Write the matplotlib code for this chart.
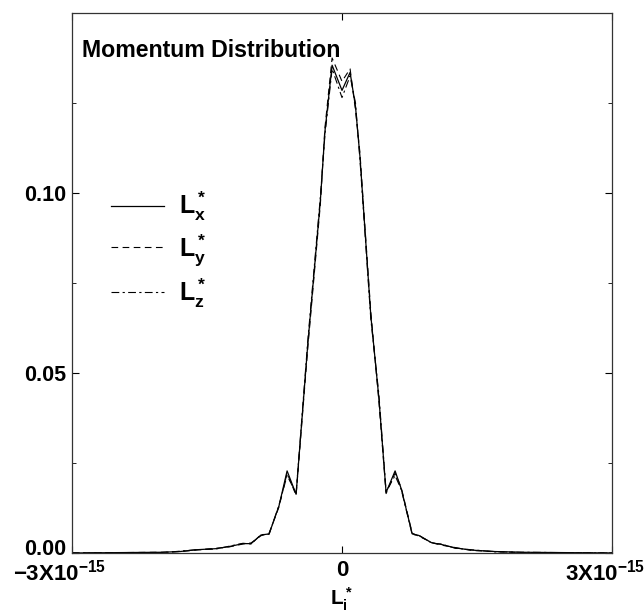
import matplotlib
matplotlib.use("Agg")
import matplotlib.pyplot as plt
import matplotlib.transforms as mtransforms

plt.rcParams['font.family'] = ['Liberation Sans', 'DejaVu Sans']
plt.rcParams['font.weight'] = 'bold'
plt.rcParams['mathtext.fontset'] = 'custom'
plt.rcParams['mathtext.rm'] = 'Liberation Sans:bold'
plt.rcParams['mathtext.bf'] = 'Liberation Sans:bold'
plt.rcParams['mathtext.it'] = 'Liberation Sans:bold'

# momentum values in units of 1e-15
x_vals = [-3.0, -2.0, -1.8, -1.62, -1.4, -1.25, -1.1, -1.01, -0.9, -0.81, -0.70,
          -0.61, -0.51, -0.38, -0.24, -0.19, -0.11, 0.0, 0.09, 0.15, 0.2, 0.24,
          0.32, 0.41, 0.49, 0.59, 0.66, 0.78, 0.85, 1.0, 1.1, 1.26, 1.44, 1.7,
          2.0, 3.0]

lx = [0.0, 0.0002, 0.0004, 0.0009, 0.0012, 0.0018, 0.0026, 0.0026, 0.0050, 0.0053,
      0.0131, 0.0228, 0.0163, 0.058, 0.098, 0.117, 0.1355, 0.1285, 0.1335, 0.124,
      0.110, 0.0953, 0.066, 0.043, 0.0168, 0.0228, 0.0177, 0.0053, 0.0049,
      0.0028, 0.0024, 0.0014, 0.0008, 0.0004, 0.0002, 0.0]

ly = [0.0, 0.0002, 0.0004, 0.0008, 0.0013, 0.0017, 0.0025, 0.0028, 0.0048, 0.0055,
      0.0128, 0.0222, 0.0160, 0.057, 0.097, 0.118, 0.1375, 0.131, 0.1345, 0.123,
      0.111, 0.0960, 0.067, 0.042, 0.0165, 0.0222, 0.0180, 0.0055, 0.0047,
      0.0029, 0.0022, 0.0015, 0.0007, 0.0004, 0.0001, 0.0]

lz = [0.0, 0.0001, 0.0005, 0.0009, 0.0011, 0.0019, 0.0027, 0.0025, 0.0051, 0.0052,
      0.0133, 0.0215, 0.0166, 0.059, 0.099, 0.116, 0.1345, 0.1265, 0.1325, 0.125,
      0.109, 0.0945, 0.065, 0.044, 0.0171, 0.0215, 0.0175, 0.0051, 0.0050,
      0.0027, 0.0025, 0.0013, 0.0009, 0.0003, 0.0002, 0.0]

fig = plt.figure(figsize=(6.44, 6.16), dpi=100)
ax = fig.add_axes([0.1118, 0.1023, 0.8385, 0.8766])

ax.plot(x_vals, lx, color='black', lw=0.9, ls='-', label=r'$\mathbf{L_x^*}$')
ax.plot(x_vals, ly, color='black', lw=0.8, ls=(0, (6, 4)), label=r'$\mathbf{L_y^*}$')
ax.plot(x_vals, lz, color='black', lw=0.8, ls=(0, (7, 3, 2, 3)), label=r'$\mathbf{L_z^*}$')

ax.set_xlim(-3.0, 3.0)
ax.set_ylim(0, 0.15)

ax.set_xticks([-3.0, 0.0, 3.0])
ax.set_xticklabels([r'$\mathbf{-3X10^{-15}}$', '0', r'$\mathbf{3X10^{-15}}$'])
ax.set_yticks([0.0, 0.05, 0.10])
ax.set_yticks([0.025, 0.075, 0.125], minor=True)
ax.set_yticklabels(['0.00', '0.05', '0.10'])
ax.tick_params(axis='x', which='major', direction='in', length=5, width=0.8,
               labelsize=16, top=True, pad=5)
ax.tick_params(axis='y', which='major', direction='in', length=5, width=0.8,
               labelsize=15.5, right=True, pad=4)
ax.tick_params(axis='y', which='minor', direction='in', length=3, width=0.6, right=True)

# nudge labels like in the scanned original
xl = ax.get_xticklabels()
for lab, dx in zip(xl, [-12, 0, -7]):
    lab.set_transform(lab.get_transform() +
                      mtransforms.ScaledTranslation(dx / 100, 0, fig.dpi_scale_trans))
y0 = ax.get_yticklabels()[0]
y0.set_transform(y0.get_transform() +
                 mtransforms.ScaledTranslation(0, 6 / 100, fig.dpi_scale_trans))

for s in ax.spines.values():
    s.set_linewidth(0.9)
    s.set_color('#333333')

ax.set_xlabel(r'$\mathbf{L_i^*}$', fontsize=15)
ax.xaxis.set_label_coords(0.5, -0.06)

ax.text(0.0185, 0.931, 'Momentum Distribution', transform=ax.transAxes,
        fontsize=16.7, fontweight='bold', va='center', ha='left')

ax.legend(loc='upper left', bbox_to_anchor=(0.031, 0.714), frameon=False,
          fontsize=18, handlelength=2.1, handletextpad=0.6, labelspacing=0.35)

fig.savefig('out.png', dpi=100)
